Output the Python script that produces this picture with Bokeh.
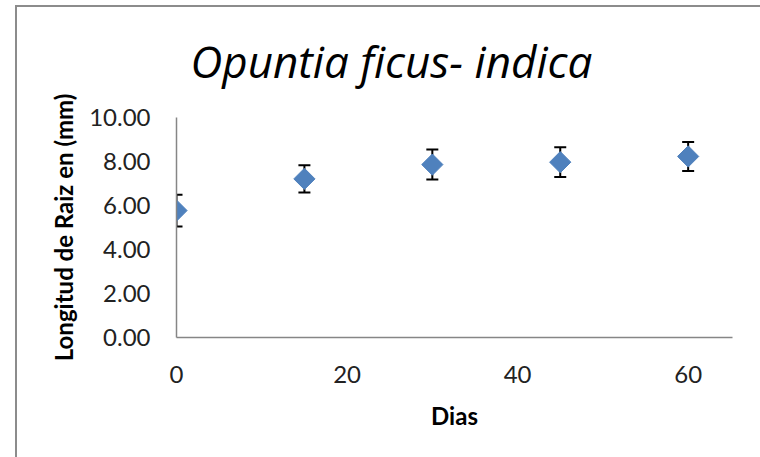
from bokeh.plotting import figure
from bokeh.models import ColumnDataSource, Whisker, FixedTicker, NumeralTickFormatter, Range1d
from bokeh.embed import file_html
from bokeh.resources import INLINE

# Data
dias = [0, 15, 30, 45, 60]
longitud = [5.77, 7.21, 7.86, 7.97, 8.23]
error = [0.72, 0.62, 0.68, 0.68, 0.66]
x_ticks = [0, 20, 40, 60]
y_ticks = [0, 2, 4, 6, 8, 10]
titulo = "Opuntia ficus- indica"

lower = [v - e for v, e in zip(longitud, error)]
upper = [v + e for v, e in zip(longitud, error)]
src = ColumnDataSource(dict(x=dias, y=longitud, lower=lower, upper=upper))

FONT = "Lato"
AXIS_COLOR = "#868686"

p = figure(width=760, height=457, output_backend="svg", toolbar_location=None,
           x_range=Range1d(0, 65.2), y_range=Range1d(y_ticks[0], y_ticks[-1]),
           min_border_left=176, min_border_right=28, min_border_top=117, min_border_bottom=120,
           title=titulo)
p.outline_line_color = None
p.grid.grid_line_color = None
p.background_fill_alpha = 0
p.border_fill_alpha = 0
# chart-area border: left and top edges at (15, 5), the rest runs off the page
p.styles = {"background-color": "white",
            "box-shadow": "inset 15px 5px 0 0 white, inset 17px 7px 0 0 #8c8c8c"}

p.title.text_font = "Open Sans"
p.title.text_font_style = "italic"
p.title.text_font_size = "44px"
p.title.text_color = "black"
p.title.align = "left"
p.title.offset = 14
p.title.standoff = 54

for ax in (p.xaxis[0], p.yaxis[0]):
    ax.axis_line_color = AXIS_COLOR
    ax.axis_line_width = 1.5
    ax.major_tick_line_color = None
    ax.minor_tick_line_color = None
    ax.major_tick_out = 0
    ax.major_tick_in = 0
    ax.minor_tick_out = 0
    ax.minor_tick_in = 0
    ax.major_label_text_font = FONT
    ax.major_label_text_font_size = "24px"
    ax.major_label_text_color = "#222222"
    ax.axis_label_text_font = FONT
    ax.axis_label_text_font_style = "bold"
    ax.axis_label_text_font_size = "24px"
    ax.axis_label_text_color = "black"

p.xaxis.ticker = FixedTicker(ticks=x_ticks)
p.yaxis.ticker = FixedTicker(ticks=y_ticks)
p.yaxis.formatter = NumeralTickFormatter(format="0.00")
p.xaxis.major_label_standoff = 28
p.yaxis.major_label_standoff = 26
p.xaxis.axis_label = "Dias"
p.yaxis.axis_label = "Longitud de Raiz en (mm)"
p.xaxis.axis_label_standoff = 15
p.yaxis.axis_label_standoff = 8

w = Whisker(source=src, base="x", lower="lower", upper="upper", dimension="height",
            line_color="black", line_width=2, level="underlay")
w.upper_head.size = 12
w.lower_head.size = 12
w.upper_head.line_width = 2
w.lower_head.line_width = 2
w.upper_head.line_color = "black"
w.lower_head.line_color = "black"
p.add_layout(w)

p.scatter("x", "y", source=src, marker="square", size=15, angle=0.785398,
          fill_color="#4F81BD", line_color="#4F81BD")

open("out.html", "w").write(file_html(p, INLINE))
